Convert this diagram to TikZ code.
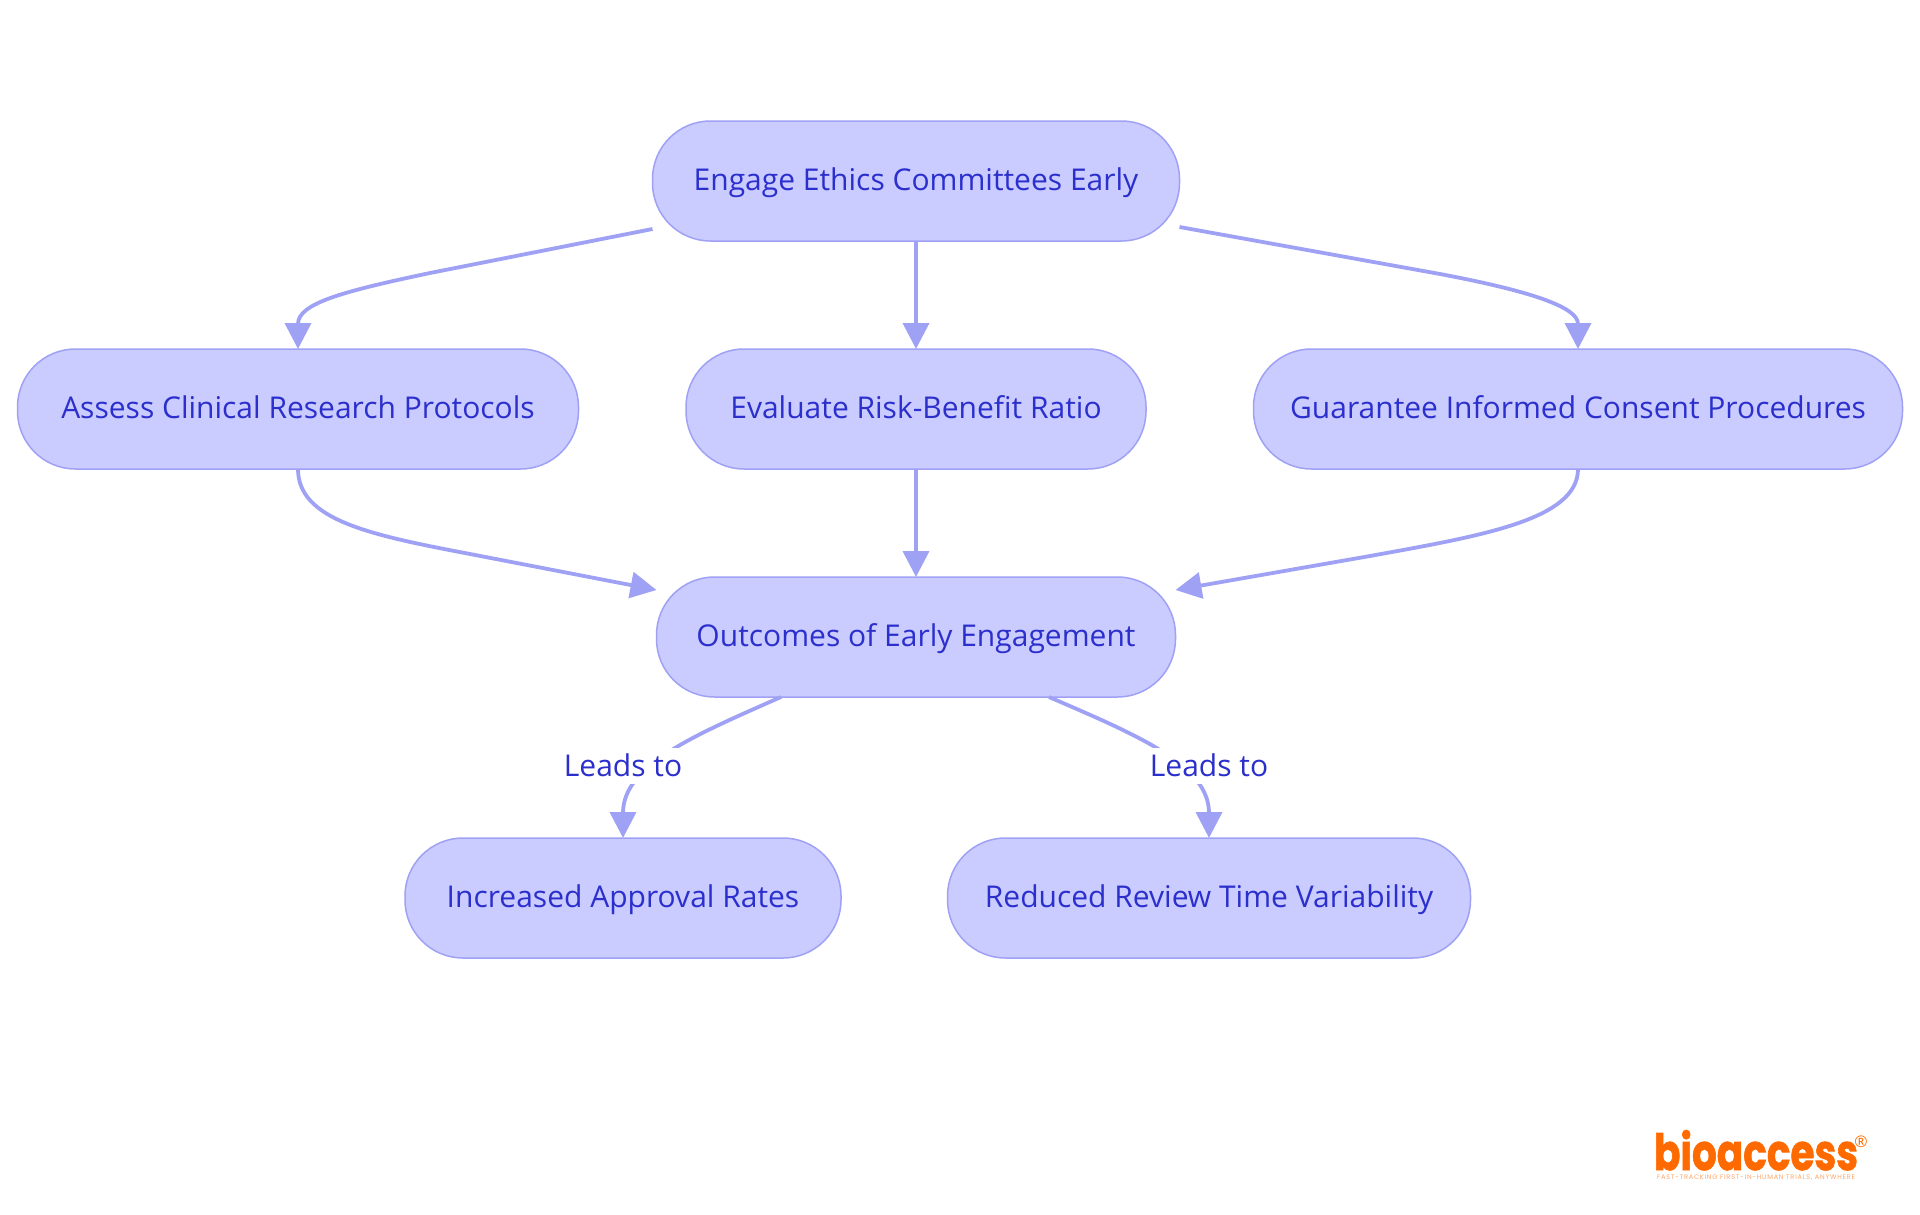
\documentclass[tikz,border=0pt]{standalone}
\usepackage{fontspec}
\setmainfont{Open Sans}
\newfontfamily\logofont[FakeBold=1.5]{Poppins}
\newfontfamily\tagfont[LetterSpace=11.5]{Poppins}
\usetikzlibrary{arrows.meta,calc}
\definecolor{nodefill}{HTML}{CACBFF}
\definecolor{nodeline}{HTML}{9FA1F5}
\definecolor{inktext}{HTML}{2B2FCC}
\definecolor{logoorange}{HTML}{FF6A00}
\tikzset{
  x=1pt,y=-1pt,
  pill/.style={draw=nodeline,line width=1.5pt,fill=nodefill,rounded corners=58pt,minimum height=120pt,inner sep=0pt,outer sep=0pt,text=inktext,text height=25pt,text depth=6pt,font=\fontsize{30}{36}\selectfont},
  flow/.style={draw=nodeline,line width=3.8pt,-{Triangle[length=26pt,width=26pt]}},
  edgelabel/.style={fill=white,text=inktext,inner sep=0pt,minimum width=128pt,minimum height=36pt,text height=22pt,text depth=2pt,font=\fontsize{30}{36}\selectfont},
}
\begin{document}
\begin{tikzpicture}
\useasboundingbox (0,0) rectangle (1920,1215);
\node[pill,minimum width=527pt] (top) at (916,181) {Engage Ethics Committees Early};
\node[pill,minimum width=561pt] (assess) at (298,409) {Assess Clinical Research Protocols};
\node[pill,minimum width=460pt] (risk) at (916,409) {Evaluate Risk-Benefit Ratio};
\node[pill,minimum width=649pt] (consent) at (1578,409) {Guarantee Informed Consent Procedures};
\node[pill,minimum width=519pt] (outcome) at (916,637) {Outcomes of Early Engagement};
\node[pill,minimum width=436pt] (rates) at (623,898) {Increased Approval Rates};
\node[pill,minimum width=523pt] (review) at (1209,898) {Reduced Review Time Variability};
\draw[flow] ($(top.west)+(0,48)$) -- (430,273) .. controls (345,291) and (298,303) .. (assess.north);
\draw[flow] (top) -- (risk);
\draw[flow] ($(top.east)+(0,46)$) -- (1440,274) .. controls (1530,291) and (1578,307) .. (consent.north);
\draw[flow] (assess.south) .. controls (298,520) and (370,535) .. (470,554) -- ($(outcome.west)+(0,-47)$);
\draw[flow] (risk) -- (outcome);
\draw[flow] (consent.south) .. controls (1578,520) and (1480,536) .. (1370,556) -- ($(outcome.east)+(0,-47)$);
\draw[flow] ($(outcome.south)+(-135,0)$) .. controls (695,735) and (623,765) .. (rates.north);
\draw[flow] ($(outcome.south)+(133,0)$) .. controls (1137,735) and (1209,765) .. (review.north);
\node[edgelabel] (l1) at (623,766) {Leads to};
\node[edgelabel] (l2) at (1209,766) {Leads to};
\node[text=logoorange,inner sep=0pt,anchor=base,text depth=0pt,font=\logofont\bfseries\fontsize{50}{50}\selectfont] (logo) at (1756,1170) {\raisebox{0pt}[\height][0pt]{\scalebox{0.78}[1]{bioaccess}}};
\node[text=logoorange,inner sep=0pt,font=\fontsize{16}{16}\selectfont] (reg) at (1861,1142) {®};
\node[text=logoorange!60,inner sep=0pt,font=\tagfont\fontsize{6.6}{7}\selectfont] (tag) at (1756,1177.5) {FAST-TRACKING FIRST-IN-HUMAN TRIALS, ANYWHERE};
\end{tikzpicture}
\end{document}
